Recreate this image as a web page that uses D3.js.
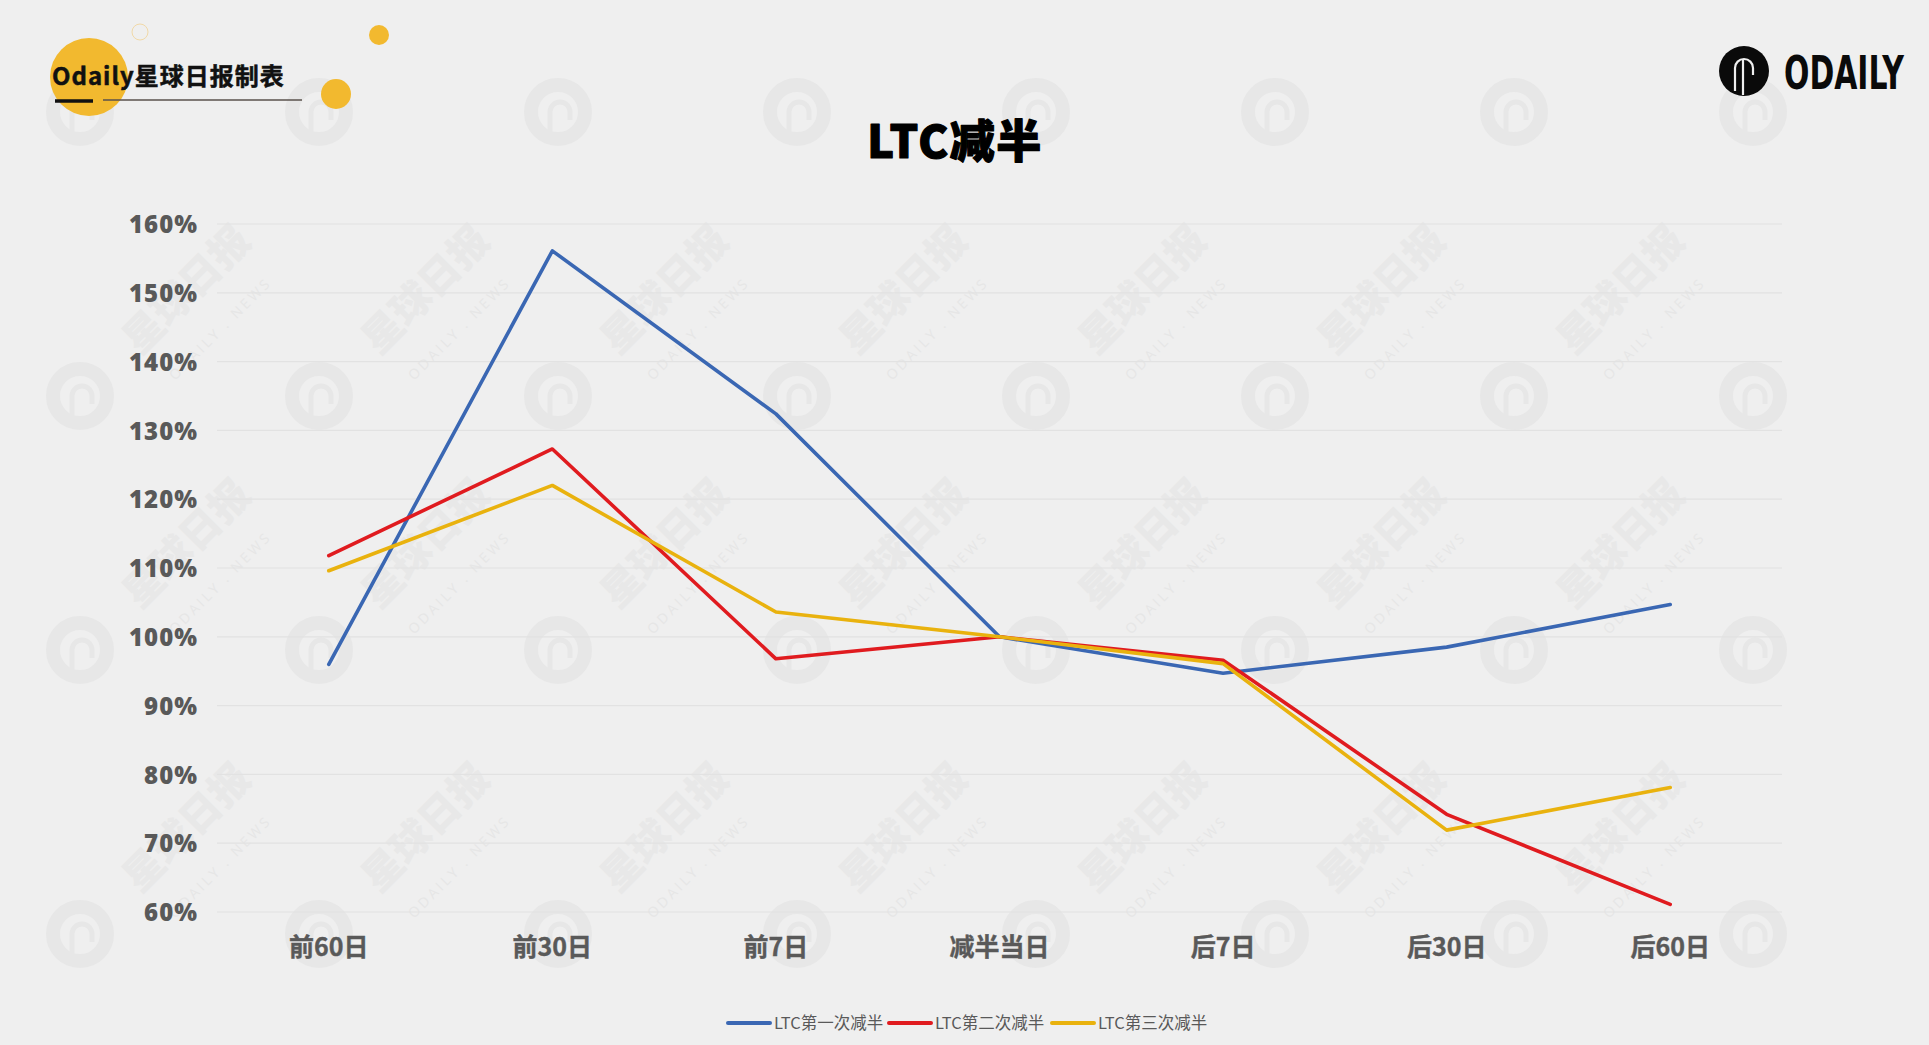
<!DOCTYPE html>
<html>
<head>
<meta charset="utf-8">
<script src="https://cdn.jsdelivr.net/npm/d3@7"></script>
<style>
  html, body { margin: 0; padding: 0; background: #efefef; }
  svg { display: block; }
</style>
</head>
<body>
<svg id="chart" width="1929" height="1045"></svg>
<script>
// ---------- data ----------
const categories = ["前60日", "前30日", "前7日", "减半当日", "后7日", "后30日", "后60日"];
const seriesNames = ["LTC第一次减半", "LTC第二次减半", "LTC第三次减半"];
const halving1 = [96.0, 156.1, 132.4, 100.0, 94.7, 98.5, 104.7];
const halving2 = [111.8, 127.3, 96.8, 100.0, 96.6, 74.2, 61.1];
const halving3 = [109.6, 122.0, 103.6, 100.0, 96.1, 71.9, 78.1];
const yTicks = [60, 70, 80, 90, 100, 110, 120, 130, 140, 150, 160];
const seriesColors = ["#3a67b3", "#e01b1f", "#e9b20e"];
const chartTitle = "LTC减半";
const headerText = "Odaily星球日报制表";

const W = 1929, H = 1045;
const svg = d3.select("#chart");
svg.append("rect").attr("width", W).attr("height", H).attr("fill", "#efefef");

// ---------- watermarks ----------
const wm = svg.append("g").attr("class", "watermarks");
const wmCols = d3.range(9).map(i => 80 + 239 * i);
const wmRows = [112, 396, 650, 934];
wmRows.forEach(ry => {
  wmCols.forEach(cx => {
    const g = wm.append("g").attr("transform", `translate(${cx},${ry})`);
    g.append("circle").attr("r", 27).attr("fill", "none").attr("stroke", "#e7e7e7").attr("stroke-width", 14);
    g.append("path").attr("d", "M-8,22 L-8,0 A10,10 0 0 1 12,0 L12,8")
      .attr("fill", "none").attr("stroke", "#e7e7e7").attr("stroke-width", 5);
    const tx = cx + 60, ty = ry - 40;
    if (ty - 125 > 0 && tx + 125 < W) {
      g.append("text").attr("transform", "translate(60,-40) rotate(-45)")
        .attr("font-family", "Noto Sans CJK SC").attr("font-weight", 900)
        .attr("font-size", 40).attr("fill", "#e8e8e8").text("星球日报");
      g.append("text").attr("transform", "translate(95,-15) rotate(-45)")
        .attr("font-family", "Open Sans").attr("font-size", 14).attr("letter-spacing", 3)
        .attr("fill", "#e6e6e6").text("ODAILY . NEWS");
    }
  });
});

// ---------- scales ----------
const x = d3.scaleBand().domain(categories).range([217, 1782]);
const y = d3.scaleLinear().domain([60, 160]).range([912, 224]);

// gridlines
svg.append("g").selectAll("line").data(yTicks).join("line")
  .attr("x1", 217).attr("x2", 1782)
  .attr("y1", d => y(d)).attr("y2", d => y(d))
  .attr("stroke", "#e2e2e2").attr("stroke-width", 1.2);

// y axis labels
const yAxis = d3.axisLeft(y).tickValues(yTicks).tickFormat(d => d + "%").tickSize(0).tickPadding(0);
const yg = svg.append("g").attr("transform", "translate(198,0)").call(yAxis);
yg.select(".domain").remove();
yg.selectAll("text")
  .attr("font-family", "Open Sans").attr("font-weight", 800).attr("font-size", 24)
  .attr("letter-spacing", 1).attr("fill", "#595959").attr("dy", "0.36em");

// x axis labels
const xAxis = d3.axisBottom(x).tickSize(0).tickPadding(0);
const xg = svg.append("g").attr("transform", "translate(0,946)").call(xAxis);
xg.select(".domain").remove();
xg.selectAll("text")
  .attr("font-family", "Noto Sans CJK SC").attr("font-weight", 700).attr("font-size", 25)
  .attr("fill", "#595959").attr("stroke", "#595959").attr("stroke-width", 0.4)
  .attr("dy", "0.4em").attr("y", 0);

// lines
const allSeries = [halving1, halving2, halving3];
const line = d3.line()
  .x((d, i) => x(categories[i]) + x.bandwidth() / 2)
  .y(d => y(d));
svg.append("g").selectAll("path").data(allSeries).join("path")
  .attr("d", d => line(d))
  .attr("fill", "none")
  .attr("stroke", (d, i) => seriesColors[i])
  .attr("stroke-width", 3.6)
  .attr("stroke-linejoin", "round")
  .attr("stroke-linecap", "round");

// title
svg.append("text").attr("x", 955).attr("y", 158).attr("text-anchor", "middle")
  .attr("font-family", "Noto Sans CJK SC").attr("font-weight", 900).attr("font-size", 45)
  .attr("letter-spacing", 1.5)
  .attr("stroke", "#000").attr("stroke-width", 1.2).attr("stroke-linejoin", "round")
  .attr("fill", "#000").text(chartTitle);

// legend
const legendX = [728, 889, 1052];
const lg = svg.append("g").selectAll("g").data(seriesNames).join("g")
  .attr("transform", (d, i) => `translate(${legendX[i]},1023)`);
lg.append("line").attr("x1", 0).attr("x2", 42).attr("y1", 0).attr("y2", 0)
  .attr("stroke", (d, i) => seriesColors[i]).attr("stroke-width", 4).attr("stroke-linecap", "round");
lg.append("text").attr("x", 46).attr("y", 0).attr("dy", "0.36em")
  .attr("font-family", "Noto Sans CJK SC").attr("font-size", 16.5).attr("fill", "#595959")
  .text(d => d);

// header decoration
const hd = svg.append("g");
hd.append("circle").attr("cx", 140).attr("cy", 32).attr("r", 8).attr("fill", "none")
  .attr("stroke", "#f1d9a8").attr("stroke-width", 1);
hd.append("circle").attr("cx", 89).attr("cy", 77).attr("r", 39).attr("fill", "#f2b92f");
hd.append("circle").attr("cx", 379).attr("cy", 35).attr("r", 10).attr("fill", "#f2b92f");
hd.append("circle").attr("cx", 336).attr("cy", 94).attr("r", 15).attr("fill", "#f2b92f");
hd.append("text").attr("x", 52).attr("y", 85)
  .attr("font-family", "Noto Sans CJK SC").attr("font-weight", 700).attr("font-size", 24)
  .attr("letter-spacing", 1).attr("stroke", "#111").attr("stroke-width", 0.5)
  .attr("fill", "#111").text(headerText);
hd.append("line").attr("x1", 55).attr("x2", 93).attr("y1", 101).attr("y2", 101)
  .attr("stroke", "#111").attr("stroke-width", 3.5);
hd.append("line").attr("x1", 103).attr("x2", 302).attr("y1", 100).attr("y2", 100)
  .attr("stroke", "#5a524c").attr("stroke-width", 1.5);

// ODAILY logo
const logo = svg.append("g").attr("transform", "translate(1744,71)");
logo.append("circle").attr("r", 25).attr("fill", "#0a0a0a");
logo.append("path").attr("d", "M-9,20 L-9,-3 A9,9 0 0 1 9,-3 L9,4")
  .attr("fill", "none").attr("stroke", "#efefef").attr("stroke-width", 2.2);
logo.append("path").attr("d", "M-1,-11 L-1,24")
  .attr("fill", "none").attr("stroke", "#efefef").attr("stroke-width", 2.2);
const brand = svg.append("text").attr("x", 0).attr("y", 0)
  .attr("font-family", "DejaVu Sans Condensed").attr("font-weight", 700).attr("font-size", 46)
  .attr("fill", "#0a0a0a").text("ODAILY");
const bw = brand.node().getComputedTextLength() || 150;
brand.attr("transform", `translate(1784,89) scale(${120 / bw},1)`);
</script>
</body>
</html>
